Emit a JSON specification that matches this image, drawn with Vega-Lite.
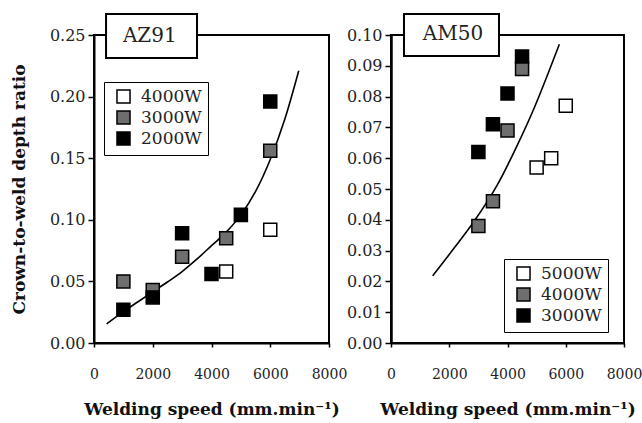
{
  "$schema": "https://vega.github.io/schema/vega-lite/v6.json",
  "background": "white",
  "padding": {"left": 9, "top": 12, "right": 2, "bottom": 2},
  "config": {
    "view": {"stroke": "black", "strokeWidth": 2},
    "axis": {
      "grid": false,
      "domainColor": "black",
      "domainWidth": 2,
      "tickColor": "black",
      "tickWidth": 1.5,
      "labelFont": "DejaVu Serif",
      "labelFontSize": 16,
      "labelColor": "#222222",
      "labelOverlap": false,
      "titleFont": "DejaVu Serif",
      "titleFontWeight": "bold",
      "titleFontSize": 17,
      "titleColor": "#111111"
    },
    "legend": {
      "labelFont": "DejaVu Serif",
      "labelFontSize": 17,
      "labelColor": "#222222",
      "symbolType": "square",
      "symbolSize": 170,
      "symbolStrokeColor": "black",
      "symbolStrokeWidth": 1.5,
      "symbolOffset": 5,
      "strokeColor": "black",
      "fillColor": "white",
      "padding": 6,
      "rowPadding": 0,
      "labelOffset": 9
    }
  },
  "datasets": {
    "az91_points": [
      {"speed": 4500, "ratio": 0.058, "power": "4000W"},
      {"speed": 6000, "ratio": 0.092, "power": "4000W"},
      {"speed": 1000, "ratio": 0.050, "power": "3000W"},
      {"speed": 2000, "ratio": 0.043, "power": "3000W"},
      {"speed": 3000, "ratio": 0.070, "power": "3000W"},
      {"speed": 4500, "ratio": 0.085, "power": "3000W"},
      {"speed": 6000, "ratio": 0.156, "power": "3000W"},
      {"speed": 1000, "ratio": 0.027, "power": "2000W"},
      {"speed": 2000, "ratio": 0.037, "power": "2000W"},
      {"speed": 3000, "ratio": 0.089, "power": "2000W"},
      {"speed": 4000, "ratio": 0.056, "power": "2000W"},
      {"speed": 5000, "ratio": 0.104, "power": "2000W"},
      {"speed": 6000, "ratio": 0.196, "power": "2000W"}
    ],
    "az91_fit": [
      {"speed": 430, "ratio": 0.0155},
      {"speed": 1000, "ratio": 0.0255},
      {"speed": 1500, "ratio": 0.0335},
      {"speed": 2000, "ratio": 0.0415},
      {"speed": 2500, "ratio": 0.0495},
      {"speed": 3000, "ratio": 0.058},
      {"speed": 3500, "ratio": 0.068},
      {"speed": 4000, "ratio": 0.079},
      {"speed": 4500, "ratio": 0.090},
      {"speed": 5000, "ratio": 0.104},
      {"speed": 5500, "ratio": 0.123},
      {"speed": 6000, "ratio": 0.149},
      {"speed": 6500, "ratio": 0.182},
      {"speed": 6970, "ratio": 0.221}
    ],
    "am50_points": [
      {"speed": 5000, "ratio": 0.057, "power": "5000W"},
      {"speed": 5500, "ratio": 0.060, "power": "5000W"},
      {"speed": 6000, "ratio": 0.077, "power": "5000W"},
      {"speed": 3000, "ratio": 0.038, "power": "4000W"},
      {"speed": 3500, "ratio": 0.046, "power": "4000W"},
      {"speed": 4000, "ratio": 0.069, "power": "4000W"},
      {"speed": 4500, "ratio": 0.089, "power": "4000W"},
      {"speed": 3000, "ratio": 0.062, "power": "3000W"},
      {"speed": 3500, "ratio": 0.071, "power": "3000W"},
      {"speed": 4000, "ratio": 0.081, "power": "3000W"},
      {"speed": 4500, "ratio": 0.093, "power": "3000W"}
    ],
    "am50_fit": [
      {"speed": 1430, "ratio": 0.0218},
      {"speed": 2175, "ratio": 0.0309},
      {"speed": 2860, "ratio": 0.0396},
      {"speed": 3660, "ratio": 0.0515},
      {"speed": 4350, "ratio": 0.0645},
      {"speed": 4920, "ratio": 0.0764},
      {"speed": 5380, "ratio": 0.0872},
      {"speed": 5780, "ratio": 0.097}
    ],
    "one": [{}]
  },
  "bounds": "flush",
  "spacing": 62,
  "resolve": {"scale": {"x": "independent", "y": "independent", "fill": "independent"}},
  "hconcat": [
    {
      "width": 235,
      "height": 308,
      "layer": [
        {
          "data": {"name": "az91_fit"},
          "mark": {"type": "line", "color": "black", "strokeWidth": 1.6, "interpolate": "monotone"},
          "encoding": {
            "x": {"field": "speed", "type": "quantitative",
              "scale": {"domain": [0, 8000], "nice": false},
              "axis": {"values": [0, 2000, 4000, 6000, 8000], "format": "d", "tickSize": 4, "labelPadding": 20, "titlePadding": 20, "labelFlush": false, "labelOverlap": false, "labelFontSize": 14, "title": "Welding speed (mm.min⁻¹)"}},
            "y": {"field": "ratio", "type": "quantitative",
              "scale": {"domain": [0, 0.25], "nice": false},
              "axis": {"values": [0, 0.05, 0.1, 0.15, 0.2, 0.25], "format": ".2f", "tickSize": 6, "labelPadding": 3, "titlePadding": 21, "labelOverlap": false, "title": "Crown-to-weld depth ratio"}}
          }
        },
        {
          "data": {"name": "az91_points"},
          "mark": {"type": "square", "size": 170, "filled": true, "stroke": "black", "strokeWidth": 1.5, "opacity": 1},
          "encoding": {
            "x": {"field": "speed", "type": "quantitative"},
            "y": {"field": "ratio", "type": "quantitative"},
            "fill": {"field": "power", "type": "nominal",
              "scale": {"domain": ["4000W", "3000W", "2000W"], "range": ["white", "#6e6e6e", "black"]},
              "legend": {"title": null, "orient": "none", "legendX": 10, "legendY": 47}}
          }
        },
        {
          "data": {"name": "one"},
          "mark": {"type": "rect", "fill": "white", "stroke": "black", "strokeWidth": 2},
          "encoding": {
            "x": {"datum": 410}, "x2": {"datum": 3506},
            "y": {"datum": 0.2670}, "y2": {"datum": 0.2313}
          }
        },
        {
          "data": {"name": "one"},
          "mark": {"type": "text", "text": "AZ91", "font": "DejaVu Serif", "fontSize": 20, "color": "#222222", "align": "center", "baseline": "middle"},
          "encoding": {
            "x": {"datum": 1900}, "y": {"datum": 0.2492}
          }
        }
      ]
    },
    {
      "width": 233,
      "height": 308,
      "resolve": {"axis": {"y": "independent"}},
      "layer": [
        {
          "data": {"name": "am50_fit"},
          "mark": {"type": "line", "color": "black", "strokeWidth": 1.6, "interpolate": "monotone"},
          "encoding": {
            "x": {"field": "speed", "type": "quantitative",
              "scale": {"domain": [0, 8000], "nice": false},
              "axis": {"values": [0, 2000, 4000, 6000, 8000], "format": "d", "tickSize": 4, "labelPadding": 20, "titlePadding": 20, "labelFlush": false, "labelOverlap": false, "labelFontSize": 14, "title": "Welding speed (mm.min⁻¹)"}},
            "y": {"field": "ratio", "type": "quantitative",
              "scale": {"domain": [0, 0.1], "nice": false},
              "axis": {"orient": "left", "values": [0, 0.02, 0.04, 0.06, 0.08, 0.1], "format": ".2f", "tickSize": 6, "labelPadding": 3, "labelOverlap": false, "title": null}}
          }
        },
        {
          "data": {"name": "am50_points"},
          "mark": {"type": "square", "size": 170, "filled": true, "stroke": "black", "strokeWidth": 1.5, "opacity": 1},
          "encoding": {
            "x": {"field": "speed", "type": "quantitative"},
            "y": {"field": "ratio", "type": "quantitative",
              "axis": {"orient": "left", "values": [0.01, 0.03, 0.05, 0.07, 0.09], "format": ".2f", "tickSize": 6, "labelPadding": 3, "labelOverlap": false, "title": null}},
            "fill": {"field": "power", "type": "nominal",
              "scale": {"domain": ["5000W", "4000W", "3000W"], "range": ["white", "#6e6e6e", "black"]},
              "legend": {"title": null, "orient": "none", "legendX": 113, "legendY": 224}}
          }
        },
        {
          "data": {"name": "one"},
          "mark": {"type": "rect", "fill": "white", "stroke": "black", "strokeWidth": 2},
          "encoding": {
            "x": {"datum": 446}, "x2": {"datum": 3708},
            "y": {"datum": 0.1068, "axis": null}, "y2": {"datum": 0.0932}
          }
        },
        {
          "data": {"name": "one"},
          "mark": {"type": "text", "text": "AM50", "font": "DejaVu Serif", "fontSize": 20, "color": "#222222", "align": "center", "baseline": "middle"},
          "encoding": {
            "x": {"datum": 2129}, "y": {"datum": 0.1003, "axis": null}
          }
        }
      ]
    }
  ]
}
